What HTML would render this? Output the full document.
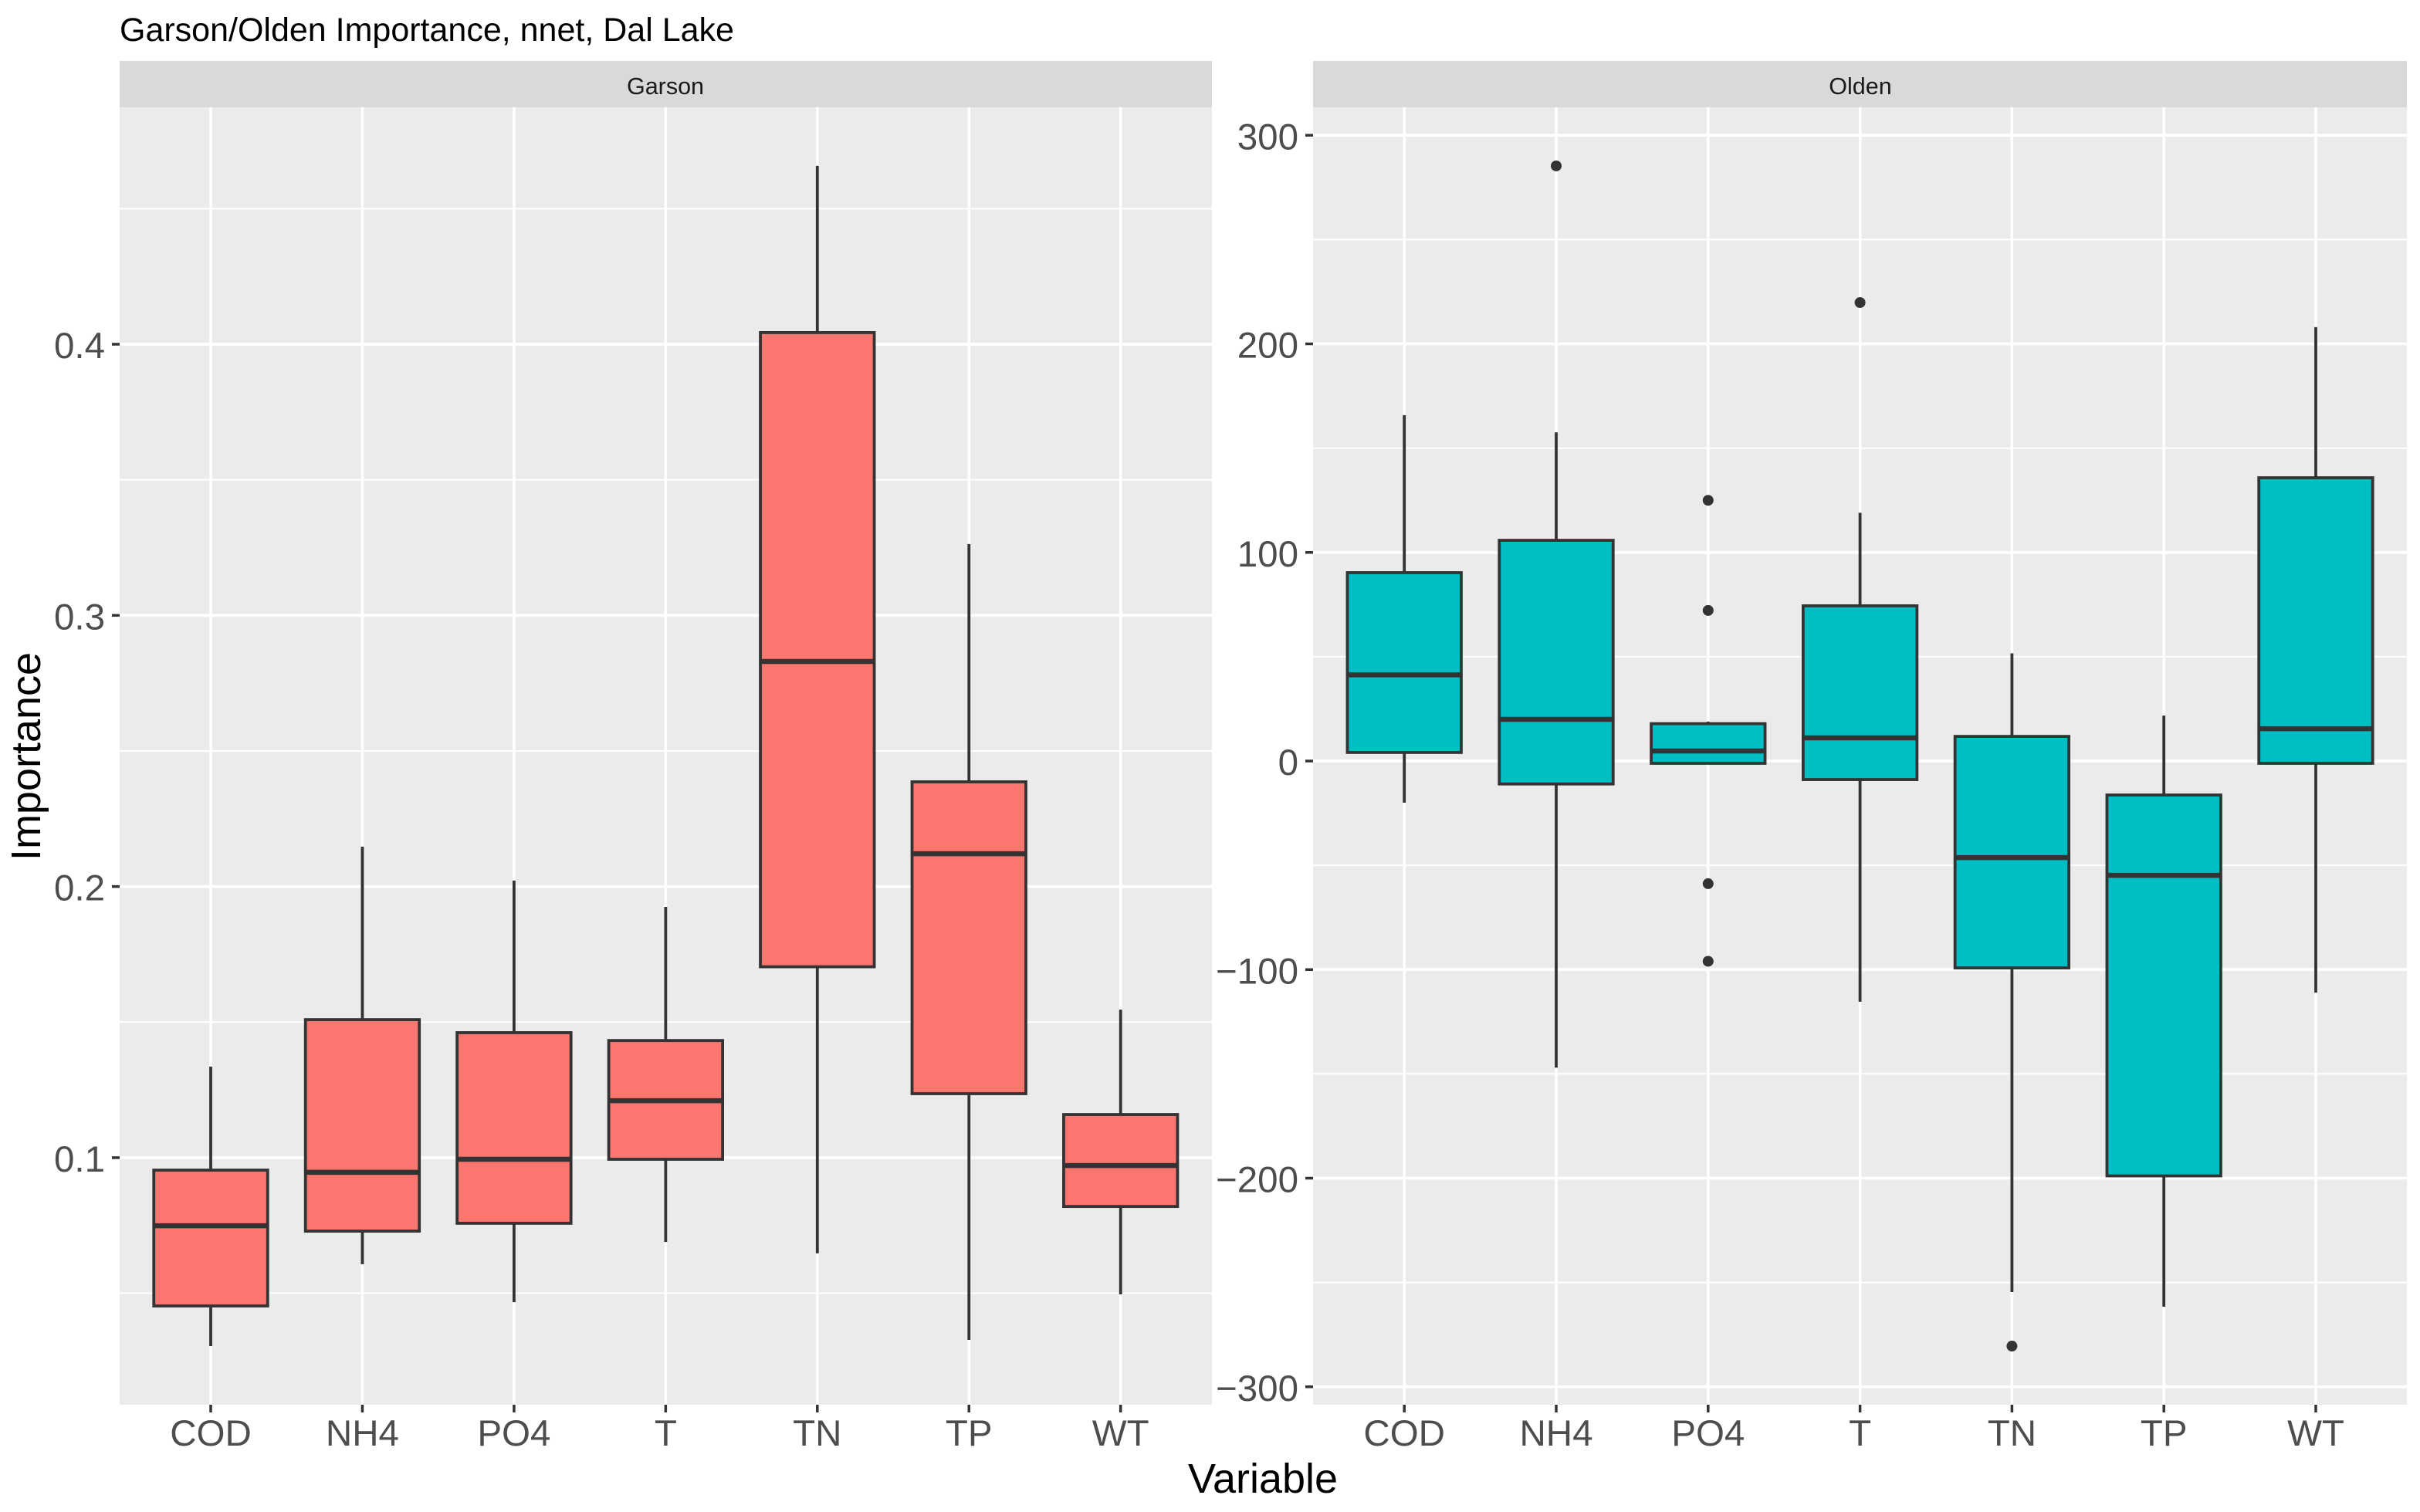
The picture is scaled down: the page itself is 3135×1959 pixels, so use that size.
<!DOCTYPE html>
<html lang="en">
<head>
<meta charset="utf-8">
<title>Garson/Olden Importance, nnet, Dal Lake</title>
<style>
html,body{margin:0;padding:0;background:#fff;width:3135px;height:1959px;overflow:hidden}
svg{display:block;font-family:"Liberation Sans",Arial,sans-serif}
</style>
</head>
<body>
<svg id="chart" xmlns="http://www.w3.org/2000/svg" width="3135" height="1959" viewBox="0 0 3135 1959">
  <rect x="0" y="0" width="3135" height="1959" fill="#ffffff"/>
  <text x="155" y="53" font-size="43" fill="#000000">Garson/Olden Importance, nnet, Dal Lake</text>

  <rect x="155" y="79" width="1415" height="60" fill="#d9d9d9"/>
  <text x="862" y="122" font-size="30.5" text-anchor="middle" fill="#1a1a1a">Garson</text>
  <rect x="155" y="139" width="1415" height="1681" fill="#ebebeb"/>
  <g id="garson-layer"></g>

  <rect x="1701" y="79" width="1417" height="60" fill="#d9d9d9"/>
  <text x="2410" y="122" font-size="30.5" text-anchor="middle" fill="#1a1a1a">Olden</text>
  <rect x="1701" y="139" width="1417" height="1681" fill="#ebebeb"/>
  <g id="olden-layer"></g>

  <text x="1636" y="1934" font-size="54" text-anchor="middle" fill="#000000">Variable</text>
  <text transform="translate(52 980) rotate(-90)" font-size="54" text-anchor="middle" fill="#000000">Importance</text>
</svg>
<script>
// Shared category labels
const categories = ['COD', 'NH4', 'PO4', 'T', 'TN', 'TP', 'WT'];

// Garson facet values
const garsonWhiskerLow = [0.0305, 0.0607, 0.0467, 0.0689, 0.0647, 0.0328, 0.0496];
const garsonQ1 = [0.0453, 0.0729, 0.0758, 0.0994, 0.1704, 0.1236, 0.0820];
const garsonMedian = [0.0749, 0.0946, 0.0994, 0.1210, 0.2830, 0.2121, 0.0971];
const garsonQ3 = [0.0954, 0.1509, 0.1461, 0.1432, 0.4043, 0.2386, 0.1159];
const garsonWhiskerHigh = [0.1336, 0.2147, 0.2022, 0.1925, 0.4658, 0.3263, 0.1546];
const garsonOutliers = [[], [], [], [], [], [], []];
const garsonTicks = [0.1, 0.2, 0.3, 0.4];
const garsonTickLabels = ['0.1', '0.2', '0.3', '0.4'];
const garsonMinorTicks = [0.05, 0.15, 0.25, 0.35, 0.45];

// Olden facet values
const oldenWhiskerLow = [-20, -147, -1.5, -115.4, -254.6, -261.6, -111];
const oldenQ1 = [4.1, -11, -1.1, -8.9, -99.2, -198.9, -1.1];
const oldenMedian = [41.3, 20, 4.8, 11.1, -46.3, -54.8, 15.5];
const oldenQ3 = [90.3, 105.8, 17.9, 74.4, 11.8, -16.3, 135.8];
const oldenWhiskerHigh = [165.8, 157.6, 18.9, 119, 51.6, 21.8, 208];
const oldenOutliers = [[], [285.3], [125, 72.2, -58.8, -96], [219.8], [-280.5], [], []];
const oldenTicks = [-300, -200, -100, 0, 100, 200, 300];
const oldenTickLabels = ['\u2212300', '\u2212200', '\u2212100', '0', '100', '200', '300'];
const oldenMinorTicks = [-250, -150, -50, 50, 150, 250];

const SVG_NS = 'http://www.w3.org/2000/svg';

function line(parent, x1, y1, x2, y2, color, width) {
  const el = document.createElementNS(SVG_NS, 'line');
  el.setAttribute('x1', x1);
  el.setAttribute('y1', y1);
  el.setAttribute('x2', x2);
  el.setAttribute('y2', y2);
  el.setAttribute('stroke', color);
  el.setAttribute('stroke-width', width);
  parent.appendChild(el);
  return el;
}

function label(parent, x, y, text, anchor) {
  const el = document.createElementNS(SVG_NS, 'text');
  el.setAttribute('x', x);
  el.setAttribute('y', y);
  el.setAttribute('font-size', '47.5');
  el.setAttribute('fill', '#4d4d4d');
  el.setAttribute('text-anchor', anchor);
  el.textContent = text;
  parent.appendChild(el);
  return el;
}

function drawFacet(f) {
  const layer = document.getElementById(f.layer);

  // Horizontal minor gridlines
  f.minor.forEach(function (v) {
    const el = line(layer, f.left, f.y(v), f.right, f.y(v), '#ffffff', 2);
    
    
  });

  // Horizontal major gridlines, ticks and labels
  f.ticks.forEach(function (v, i) {
    const grid = line(layer, f.left, f.y(v), f.right, f.y(v), '#ffffff', 3.8);
    
    
    const tick = line(layer, f.left - 10, f.y(v), f.left, f.y(v), '#333333', 3.5);
    
    
    const text = label(layer, f.left - 19, f.y(v) + 18, f.tickLabels[i], 'end');
    
    
  });

  // Vertical gridlines, x ticks and labels
  categories.forEach(function (cat, i) {
    const grid = line(layer, f.x(i), 139, f.x(i), 1820, '#ffffff', 3.5);
    
    
    const tick = line(layer, f.x(i), 1820, f.x(i), 1830, '#333333', 3.5);
    
    
    const text = label(layer, f.x(i), 1873, cat, 'middle');
    
    
  });

  // Boxplots
  categories.forEach(function (cat, i) {
    const cx = f.x(i);
    const boxWidth = 147.5;

    const upper = line(layer, cx, f.y(f.q3[i]), cx, f.y(f.high[i]), '#333333', 3.8);
    
    

    const lower = line(layer, cx, f.y(f.q1[i]), cx, f.y(f.low[i]), '#333333', 3.8);
    
    

    f.outliers[i].forEach(function (v) {
      const dot = document.createElementNS(SVG_NS, 'circle');
      dot.setAttribute('cx', cx);
      dot.setAttribute('cy', f.y(v));
      dot.setAttribute('r', 7);
      dot.setAttribute('fill', '#333333');
      
      
      layer.appendChild(dot);
    });

    const box = document.createElementNS(SVG_NS, 'rect');
    box.setAttribute('x', cx - boxWidth / 2);
    box.setAttribute('y', f.y(f.q3[i]));
    box.setAttribute('width', boxWidth);
    box.setAttribute('height', f.y(f.q1[i]) - f.y(f.q3[i]));
    box.setAttribute('fill', f.fill);
    box.setAttribute('stroke', '#333333');
    box.setAttribute('stroke-width', 3.8);
    
    
    layer.appendChild(box);

    const med = line(layer, cx - boxWidth / 2, f.y(f.median[i]), cx + boxWidth / 2, f.y(f.median[i]), '#333333', 6.5);
    
    
  });
}

function garsonY(v) { return 446 + (0.4 - v) * 3513; }
function garsonX(i) { return 273 + i * 196.45; }
function oldenY(v) { return 986 - v * 2.7025; }
function oldenX(i) { return 1819.2 + i * 196.8; }

drawFacet({
  name: 'garson', layer: 'garson-layer', left: 155, right: 1570, fill: '#fb766f',
  x: garsonX, y: garsonY,
  ticks: garsonTicks, tickLabels: garsonTickLabels, minor: garsonMinorTicks,
  low: garsonWhiskerLow, q1: garsonQ1, median: garsonMedian, q3: garsonQ3, high: garsonWhiskerHigh,
  outliers: garsonOutliers
});

drawFacet({
  name: 'olden', layer: 'olden-layer', left: 1701, right: 3118, fill: '#00bfc4',
  x: oldenX, y: oldenY,
  ticks: oldenTicks, tickLabels: oldenTickLabels, minor: oldenMinorTicks,
  low: oldenWhiskerLow, q1: oldenQ1, median: oldenMedian, q3: oldenQ3, high: oldenWhiskerHigh,
  outliers: oldenOutliers
});
</script>
</body>
</html>
